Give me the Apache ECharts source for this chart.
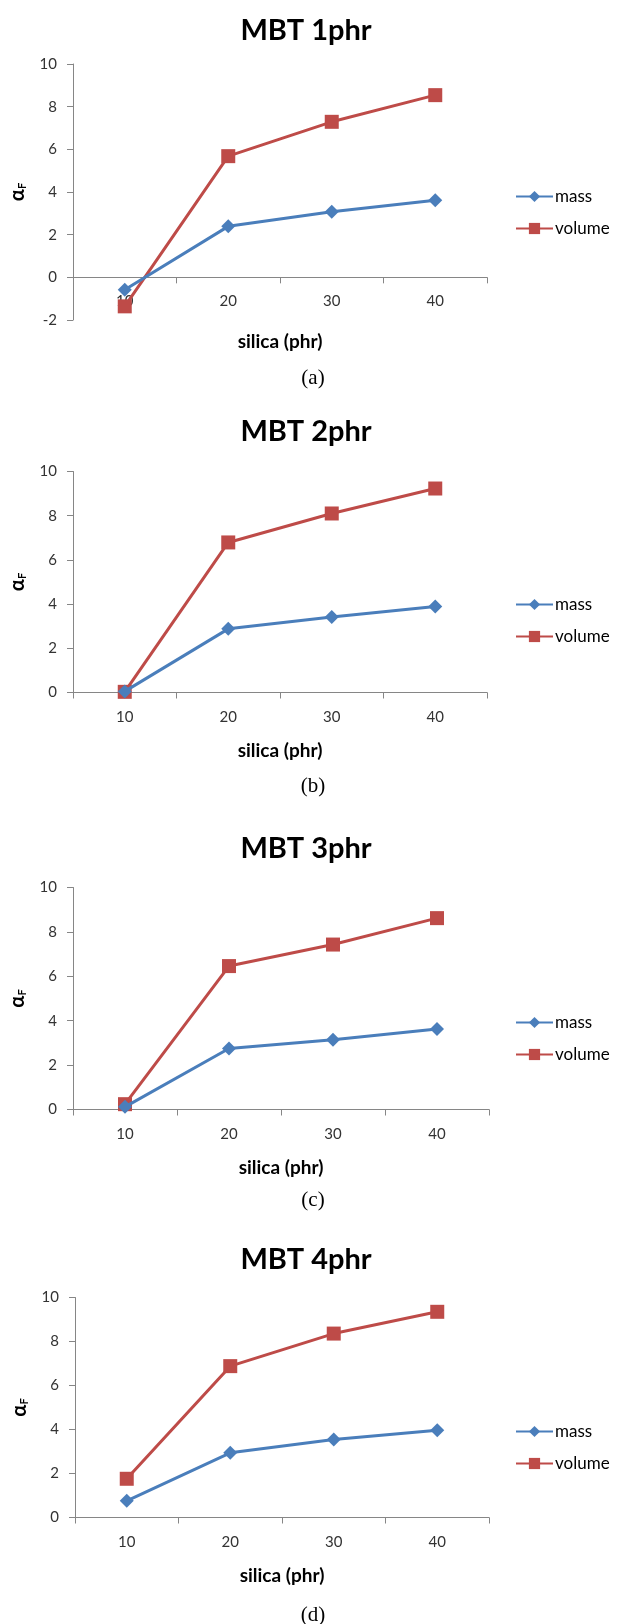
<!DOCTYPE html>
<html><head><meta charset="utf-8">
<script src="https://cdn.jsdelivr.net/npm/echarts@6/dist/echarts.min.js"></script>
<style>html,body{margin:0;padding:0;background:#fff}#c{width:618px;height:1624px}</style>
</head><body><div id="c"></div>
<script>
const categories = ['10', '20', '30', '40'];
const panelTitles = ['MBT 1phr', 'MBT 2phr', 'MBT 3phr', 'MBT 4phr'];
const captions = ['(a)', '(b)', '(c)', '(d)'];
const massA = [-0.58, 2.39, 3.07, 3.61];
const volumeA = [-1.36, 5.68, 7.29, 8.54];
const massB = [0.05, 2.88, 3.42, 3.89];
const volumeB = [0.03, 6.79, 8.10, 9.23];
const massC = [0.12, 2.75, 3.14, 3.63];
const volumeC = [0.24, 6.46, 7.43, 8.62];
const massD = [0.76, 2.94, 3.55, 3.97];
const volumeD = [1.76, 6.88, 8.36, 9.35];
const yMins = [-2, 0, 0, 0];
const yMax = 10;
const yInterval = 2;
const xName = 'silica (phr)';

const massSets = [massA, massB, massC, massD];
const volumeSets = [volumeA, volumeB, volumeC, volumeD];

// layout
const grids = [
  {left: 72, top: 64, width: 415, height: 256},
  {left: 70, top: 471.5, width: 417, height: 221},
  {left: 72, top: 887.5, width: 417, height: 222},
  {left: 75, top: 1297.5, width: 414, height: 220}
];
const titleY = [29, 430, 847, 1258];
const captionY = [375, 783, 1197, 1612];
const legendTop = [183, 591, 1009, 1418];
const xLabelMargin = [-26, 17, 17, 17];
const xNameGap = [12, 49, 49, 49];

const FONT = 'Lato, "Open Sans", sans-serif';
const BLUE = '#4a7ebb';
const RED = '#be4b48';
const AX = '#868686';

const option = {
  backgroundColor: '#fff',
  animation: false,
  title: [],
  grid: grids,
  xAxis: [], yAxis: [], series: [], legend: []
};

for (let i = 0; i < 4; i++) {
  option.title.push({
    text: panelTitles[i], left: 301, textAlign: 'center', top: titleY[i] - 18,
    textStyle: {fontFamily: FONT, fontSize: 29, fontWeight: 'bold', color: '#000'}
  });
  option.title.push({
    text: captions[i], left: 308, textAlign: 'center', top: captionY[i] - 12,
    textStyle: {fontFamily: '"Liberation Serif", "Times New Roman", serif', fontSize: 21, fontWeight: 'normal', color: '#000'}
  });
  option.xAxis.push({
    type: 'category', gridIndex: i, data: categories, boundaryGap: true,
    name: xName, nameLocation: 'middle', nameGap: xNameGap[i],
    nameTextStyle: {fontFamily: FONT, fontSize: 19, fontWeight: 'bold', color: '#000'},
    axisLine: {onZero: true, lineStyle: {color: AX, width: 1}},
    axisTick: {show: true, alignWithLabel: false, length: 6, lineStyle: {color: AX}},
    axisLabel: {fontFamily: FONT, fontSize: 15, color: '#333', margin: xLabelMargin[i]},
    splitLine: {show: false}
  });
  option.yAxis.push({
    type: 'value', gridIndex: i, min: yMins[i], max: yMax, interval: yInterval,
    name: '{a|α}{s|F}', nameLocation: 'middle', nameGap: 45,
    nameTextStyle: {
      rich: {
        a: {fontFamily: FONT, fontSize: 20, fontWeight: 'bold', color: '#000'},
        s: {fontFamily: FONT, fontSize: 11, fontWeight: 'bold', color: '#000', padding: [8, 0, 0, 0]}
      }
    },
    axisLine: {show: true, lineStyle: {color: AX, width: 1}},
    axisTick: {show: true, length: 6, lineStyle: {color: AX}},
    axisLabel: {fontFamily: FONT, fontSize: 15, color: '#333', margin: 16},
    splitLine: {show: false}
  });
  option.series.push({
    name: 'mass', type: 'line', xAxisIndex: i, yAxisIndex: i, data: massSets[i],
    symbol: 'diamond', symbolSize: 14,
    lineStyle: {color: BLUE, width: 3}, itemStyle: {color: BLUE}, z: 3
  });
  option.series.push({
    name: 'volume', type: 'line', xAxisIndex: i, yAxisIndex: i, data: volumeSets[i],
    symbol: 'rect', symbolSize: 14,
    lineStyle: {color: RED, width: 3}, itemStyle: {color: RED}, z: 2
  });
  option.legend.push({
    orient: 'vertical', left: 510, top: legendTop[i],
    itemWidth: 37, itemHeight: 14, itemGap: 15,
    data: ['mass', 'volume'],
    textStyle: {fontFamily: FONT, fontSize: 17, color: '#000', padding: [0, 0, 0, -3]},
    selectedMode: false
  });
}

const chart = echarts.init(document.getElementById('c'), null, {renderer: 'canvas'});
chart.setOption(option);
</script>
</body></html>
